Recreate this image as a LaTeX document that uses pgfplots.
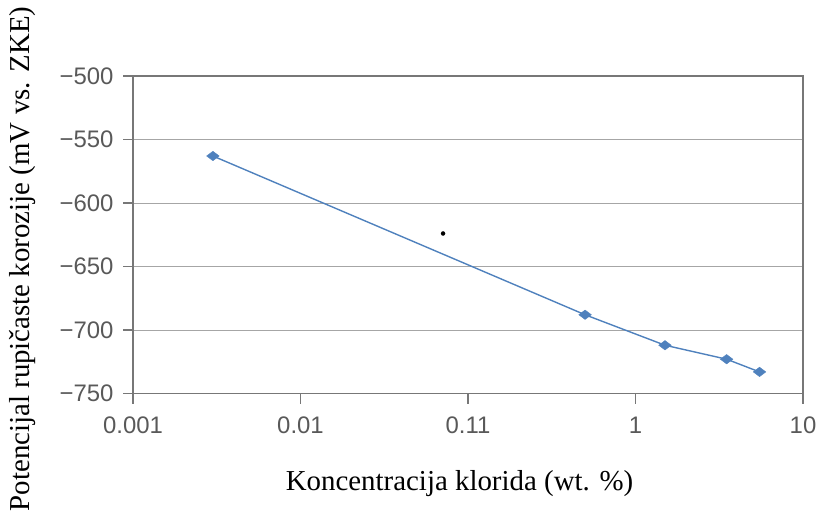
\documentclass[border=0pt]{standalone}
\usepackage{fontspec}
\setmainfont{Liberation Serif}
\newfontfamily\arialfont{Liberation Sans}
\usepackage{pgfplots}
\pgfplotsset{compat=1.18}
\definecolor{seriesblue}{HTML}{4F81BD}
\definecolor{axisgray}{HTML}{777777}
\definecolor{gridgray}{HTML}{A6A6A6}
\definecolor{ticktext}{HTML}{595959}

\begin{document}
\begin{tikzpicture}
  \path[use as bounding box] (-133bp,-123.5bp) rectangle (686bp,393.5bp);
  \begin{axis}[
      at={(0,0)}, anchor=south west,
      scale only axis, width=670bp, height=317.5bp,
      xmode=log, xmin=0.001, xmax=10, ymin=-750, ymax=-500,
      xtick={0.001,0.01,0.1,1,10},
      xticklabels={0.001,0.01,0.11,1,10},
      xminorticks=false,
      ytick={-750,-700,-650,-600,-550,-500},
      yticklabels={−750,−700,−650,−600,−550,−500},
      tick pos=left, tick align=outside, major tick length=10bp,
      tick style={axisgray, line width=1.1bp},
      axis line style={axisgray, line width=1.4bp},
      ymajorgrids, grid style={gridgray, line width=0.8bp},
      ticklabel style={font=\arialfont\fontsize{24}{24}\selectfont, text=ticktext},
      xticklabel style={yshift=-10bp},
      yticklabel style={xshift=-6bp},
      xlabel={Koncentracija klorida (wt. \%)},
      ylabel={Potencijal rupičaste korozije (mV vs. ZKE)},
      label style={font=\fontsize{29}{29}\selectfont, inner sep=0pt},
      xlabel style={at={(axis description cs:0.48731,-0.30394)}, anchor=base},
      ylabel style={at={(axis description cs:-0.15373,0.42362)}, anchor=base},
    ]
    % measured series
    \addplot[seriesblue, line width=1.4bp, mark=diamond*,
      mark size=6.3bp, mark options={rotate=90, solid, fill=seriesblue, draw=seriesblue, line width=0.4bp}]
      coordinates {(0.003,-563) (0.5,-688) (1.5,-712) (3.5,-723) (5.5,-733)};
    % stray dot in the original figure
    \addplot[only marks, mark=*, mark size=2bp, black] coordinates {(0.071,-624)};
  \end{axis}
\end{tikzpicture}
\end{document}
